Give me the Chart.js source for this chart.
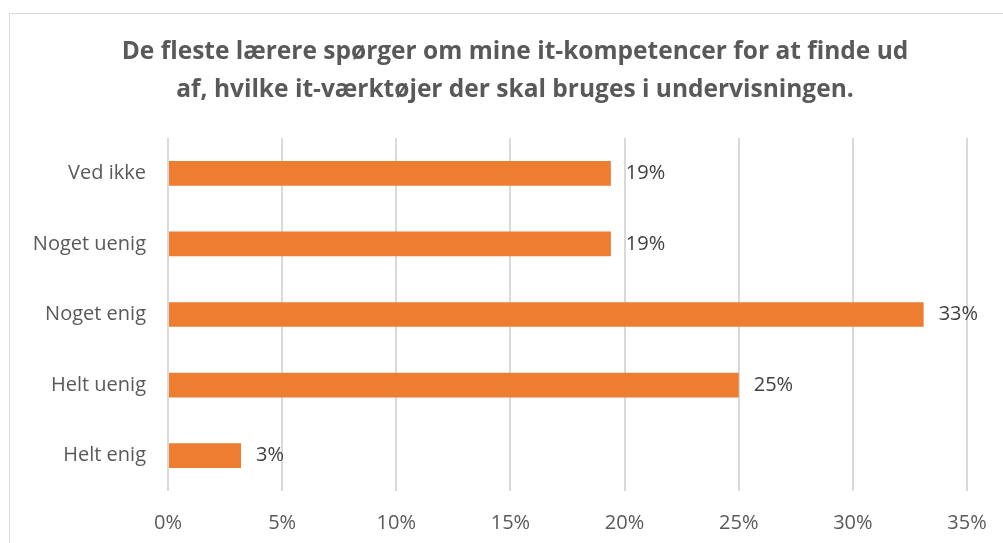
<!DOCTYPE html>
<html>
<head>
<meta charset="utf-8">
<script src="https://cdn.jsdelivr.net/npm/chart.js@4.4.1/dist/chart.umd.min.js"></script>
<style>
  html, body { margin: 0; padding: 0; background: #fff; overflow: hidden; }
  #wrap { position: relative; width: 1003px; height: 543px; }
  #frame { position: absolute; left: 9px; top: 13px; width: 1100px; height: 600px; border: 1px solid #d9d9d9; box-sizing: border-box; }
  canvas { position: absolute; left: 0; top: 0; }
</style>
</head>
<body>
<div id="wrap">
  <div id="frame"></div>
  <canvas id="myChart" width="1003" height="543"></canvas>
</div>
<script>
const categories = ['Ved ikke', 'Noget uenig', 'Noget enig', 'Helt uenig', 'Helt enig'];
const shares = [19.4, 19.4, 33.1, 25.0, 3.2];
const titleLines = ['De fleste lærere spørger om mine it-kompetencer for at finde ud', 'af, hvilke it-værktøjer der skal bruges i undervisningen.'];

const fontName = "'Open Sans', 'Noto Sans', sans-serif";

// labels to the right of every bar
const barLabels = {
  id: 'barLabels',
  afterDatasetsDraw(chart) {
    const ctx = chart.ctx;
    const meta = chart.getDatasetMeta(0);
    ctx.save();
    ctx.font = '20px ' + fontName;
    ctx.fillStyle = '#404040';
    ctx.textAlign = 'left';
    ctx.textBaseline = 'middle';
    meta.data.forEach(function(bar, i) {
      ctx.fillText(Math.round(shares[i]) + '%', bar.x + 15, bar.y);
    });
    ctx.restore();
  }
};

// title centred on the chart frame, not on the plot
const frameTitle = {
  id: 'frameTitle',
  afterDraw(chart) {
    const ctx = chart.ctx;
    ctx.save();
    ctx.font = 'bold 24.5px ' + fontName;
    ctx.fillStyle = '#595959';
    ctx.textAlign = 'center';
    ctx.textBaseline = 'middle';
    ctx.fillText(titleLines[0], 515, 52);
    ctx.fillText(titleLines[1], 515, 90);
    ctx.restore();
  }
};

new Chart(document.getElementById('myChart'), {
  type: 'bar',
  data: {
    labels: categories,
    datasets: [{
      data: shares,
      backgroundColor: '#ED7D31',
      borderWidth: 0,
      barPercentage: 0.5,
      categoryPercentage: 0.7
    }]
  },
  options: {
    indexAxis: 'y',
    responsive: false,
    animation: false,
    layout: { padding: { left: 0, right: 36, top: 138, bottom: 0 } },
    plugins: {
      legend: { display: false },
      tooltip: { enabled: false },
      title: { display: false }
    },
    scales: {
      x: {
        min: 0,
        max: 35,
        ticks: {
          stepSize: 5,
          padding: 20,
          color: '#595959',
          font: { family: fontName, size: 20 },
          callback: function(v) { return v + '%'; }
        },
        grid: { color: '#d9d9d9', lineWidth: 2, drawTicks: false },
        border: { display: false },
        afterFit: function(scale) {
          scale.height = 52;
          scale.paddingLeft = 0;
          scale.paddingRight = 0;
        }
      },
      y: {
        ticks: {
          padding: 22,
          color: '#595959',
          font: { family: fontName, size: 20 }
        },
        grid: { display: false, drawTicks: false },
        border: { display: false },
        afterFit: function(scale) { scale.width = 168; }
      }
    }
  },
  plugins: [barLabels, frameTitle]
});
</script>
</body>
</html>
